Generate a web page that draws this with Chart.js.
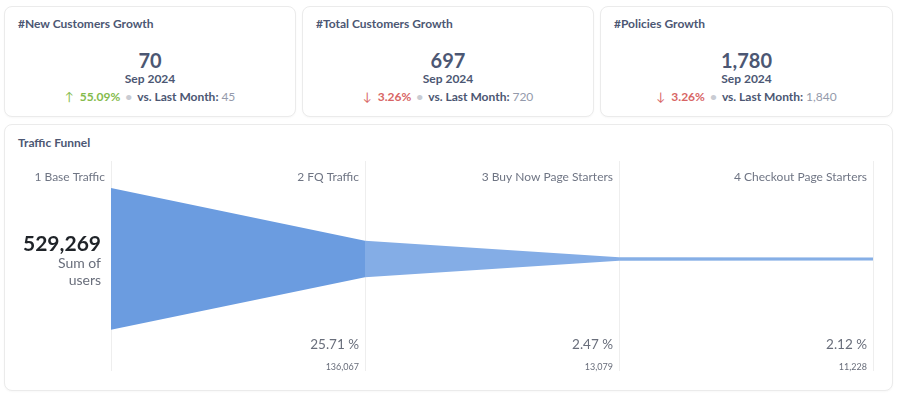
<!DOCTYPE html>
<html>
<head>
<meta charset="utf-8">
<script src="https://cdn.jsdelivr.net/npm/chart.js@4.4.1/dist/chart.umd.min.js"></script>
<style>
  body { margin: 0; width: 900px; height: 397px; background: #fff; font-family: Lato, sans-serif; position: relative; overflow: hidden; }
  .card { position: absolute; box-sizing: border-box; border: 1px solid #ebebeb; border-radius: 8px; background: #fff; box-shadow: 0 1px 2px rgba(0,0,0,0.03); }
  .kpi { top: 6px; height: 111px; }
  .title { position: absolute; left: 13px; top: 9px; font-size: 12px; font-weight: 700; color: #4c5773; }
  .value { position: absolute; left: 0; right: 0; top: 41px; line-height: 24px; text-align: center; font-size: 20px; font-weight: 700; color: #4c5773; }
  .period { position: absolute; left: 0; right: 0; top: 64px; line-height: 15px; text-align: center; font-size: 12px; font-weight: 700; color: #4c5773; }
  .compare { position: absolute; left: 0; right: 0; top: 82px; line-height: 15px; text-align: center; font-size: 12px; font-weight: 700; color: #4c5773; }
  .compare .up { color: #84bb4c; }
  .compare .down { color: #d86565; }
  .compare .arrow { font-weight: 400; margin-right: 6px; }
  .compare .dot { color: #c9ccd3; margin: 0 5px; }
  .compare .prev { color: #949aab; font-weight: 400; }
  #funnelCard { left: 4px; top: 124px; width: 889px; height: 267px; }
  #funnelCard .title { top: 10px; }
  #funnelCard canvas { position: absolute; left: -1px; top: -1px; }
</style>
</head>
<body>
<div id="kpis"></div>
<div class="card" id="funnelCard">
  <div class="title">Traffic Funnel</div>
  <canvas id="funnel" width="889" height="267"></canvas>
</div>
<script>
// KPI cards
const kpiTitles = ["#New Customers Growth", "#Total Customers Growth", "#Policies Growth"];
const kpiValues = ["70", "697", "1,780"];
const kpiPeriods = ["Sep 2024", "Sep 2024", "Sep 2024"];
const kpiChanges = [55.09, -3.26, -3.26];
const kpiPrevious = ["45", "720", "1,840"];
const kpiLefts = [4, 302, 600];
const kpiWidths = [292, 292, 293];

// Funnel
const stepLabels = ["1 Base Traffic", "2 FQ Traffic", "3 Buy Now Page Starters", "4 Checkout Page Starters"];
const stepCounts = [529269, 136067, 13079, 11228];
const segmentColors = ["#6b9ce0", "#84ade6", "#86afe6"];

const kpiBox = document.getElementById("kpis");
kpiTitles.forEach((title, i) => {
  const up = kpiChanges[i] >= 0;
  const card = document.createElement("div");
  card.className = "card kpi";
  card.style.left = kpiLefts[i] + "px";
  card.style.width = kpiWidths[i] + "px";
  card.innerHTML =
    `<div class="title">${title}</div>` +
    `<div class="value">${kpiValues[i]}</div>` +
    `<div class="period">${kpiPeriods[i]}</div>` +
    `<div class="compare"><span class="${up ? "up" : "down"}"><span class="arrow">${up ? "↑" : "↓"}</span>${Math.abs(kpiChanges[i]).toFixed(2)}%</span>` +
    `<span class="dot">•</span>vs. Last Month: <span class="prev">${kpiPrevious[i]}</span></div>`;
  kpiBox.appendChild(card);
});

const base = stepCounts[0];
const datasets = [];
for (let i = 0; i < stepCounts.length - 1; i++) {
  datasets.push({
    data: [{ x: i, y: stepCounts[i] / 2 }, { x: i + 1, y: stepCounts[i + 1] / 2 }],
    backgroundColor: segmentColors[i],
    borderWidth: 0,
    pointRadius: 0,
    fill: "+1",
  });
  datasets.push({
    data: [{ x: i, y: -stepCounts[i] / 2 }, { x: i + 1, y: -stepCounts[i + 1] / 2 }],
    backgroundColor: segmentColors[i],
    borderWidth: 0,
    pointRadius: 0,
    fill: false,
  });
}

const funnelLabels = {
  id: "funnelLabels",
  afterDraw(chart) {
    const { ctx, chartArea, scales } = chart;
    const center = scales.y.getPixelForValue(0);
    ctx.save();
    ctx.textAlign = "right";
    ctx.textBaseline = "middle";
    stepLabels.forEach((label, i) => {
      const x = scales.x.getPixelForValue(i) - 6;
      ctx.fillStyle = "#6f7584";
      ctx.font = "12px Lato";
      ctx.fillText(label, x, chartArea.top + 16);
      if (i > 0) {
        ctx.font = "13.5px Lato";
        ctx.fillStyle = "#696e7b";
        ctx.fillText((stepCounts[i] / base * 100).toFixed(2) + " %", x, chartArea.bottom - 26);
        ctx.font = "9px Lato";
        ctx.fillText(stepCounts[i].toLocaleString("en-US"), x, chartArea.bottom - 4);
      }
    });
    const lx = chartArea.left - 10;
    ctx.font = "bold 21px Lato";
    ctx.fillStyle = "#1f2328";
    ctx.fillText(base.toLocaleString("en-US"), lx, center - 15);
    ctx.font = "14px Lato";
    ctx.fillStyle = "#696e7b";
    ctx.fillText("Sum of", lx, center + 5);
    ctx.fillText("users", lx, center + 22);
    ctx.restore();
  },
};

new Chart(document.getElementById("funnel"), {
  type: "line",
  data: { datasets },
  options: {
    responsive: false,
    animation: false,
    layout: { padding: { left: 107, right: 20, top: 37, bottom: 20 } },
    plugins: { legend: { display: false }, tooltip: { enabled: false } },
    scales: {
      x: {
        type: "linear",
        min: 0,
        max: stepCounts.length - 1,
        ticks: { display: false, stepSize: 1 },
        grid: { color: "#eeeeee", drawTicks: false },
        border: { display: false },
      },
      y: {
        display: false,
        min: -base * 0.79,
        max: base * 0.69,
      },
    },
  },
  plugins: [funnelLabels],
});
</script>
</body>
</html>
